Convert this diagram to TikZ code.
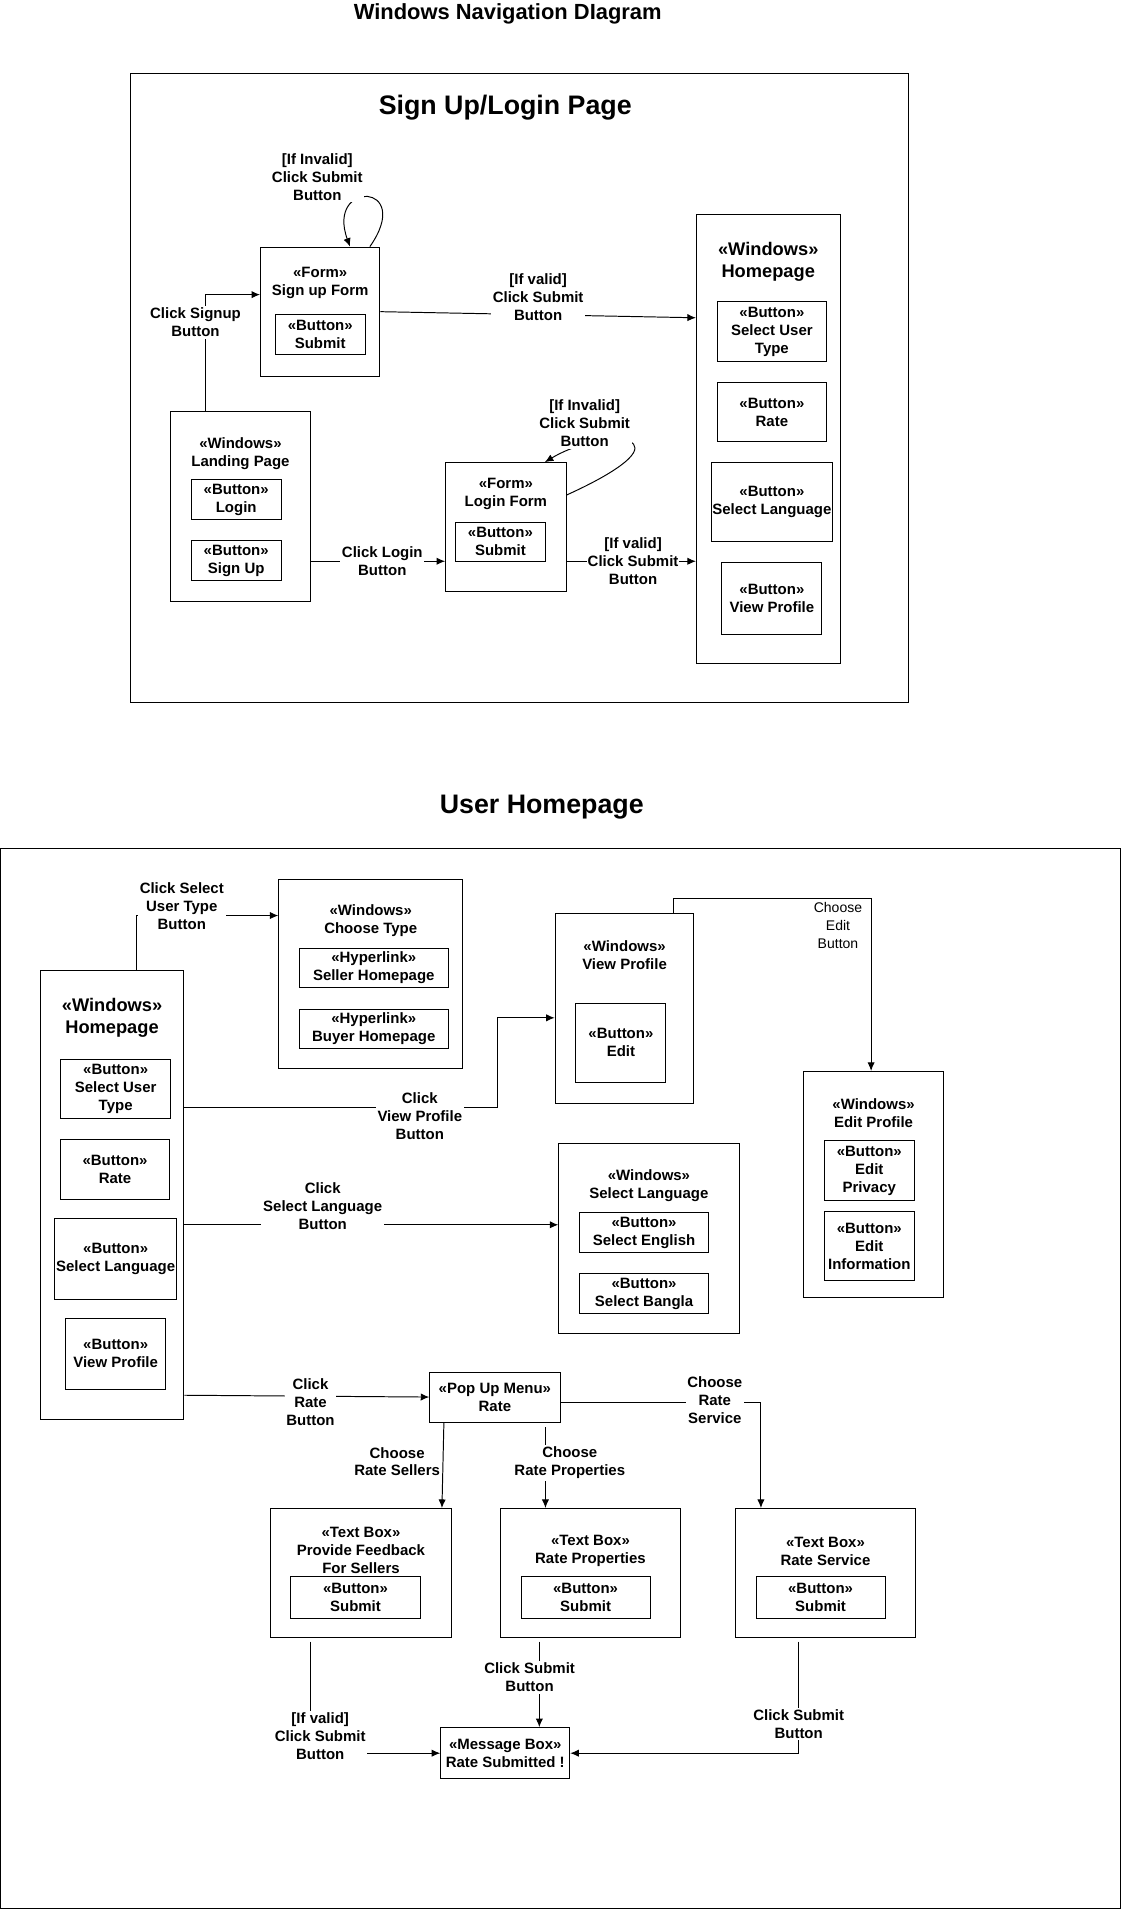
\documentclass[tikz,border=0pt]{standalone}
\usepackage{fontspec}
\setmainfont{Liberation Sans}
\usetikzlibrary{arrows.meta}
\newcommand{\navfont}{\fontsize{12.3}{14.7}\selectfont\bfseries}
\newcommand{\homefont}{\fontsize{15}{17.5}\selectfont\bfseries}
\newcommand{\choosefont}{\fontsize{11.5}{14.7}\selectfont}
\newcommand{\headfont}[1]{\fontsize{#1}{#1}\selectfont\bfseries}
\begin{document}
\begin{tikzpicture}[x=1pt, y=-1pt, line width=0.8pt,
    win/.style={draw, inner sep=0pt},
    btn/.style={draw, inner sep=1pt, align=center, font=\navfont},
    caption/.style={align=center, inner sep=0pt, font=\navfont},
    lab/.style={fill=white, inner sep=1.5pt, align=center, font=\navfont},
    link/.style={-{Latex[length=7pt,width=6pt]}}]
    \useasboundingbox[fill=white] (0,0) rectangle (921,1568);

    \node[font=\headfont{18}] (mainTitle) at (417,11) {Windows Navigation DIagram};
    \draw (107,60) rectangle (746,577);
    \node[font=\headfont{22}] (loginTitle) at (415,88) {Sign Up/Login Page};

    \node[win, minimum width=98, minimum height=106] (signup) at (263,256) {};
    \node[caption] (signupCap) at (263,232.5) {«Form»\\Sign up Form};
    \node[btn, minimum width=74, minimum height=33] (signupSubmit) at (263,274.5) {«Button»\\Submit};

    \node[win, minimum width=115, minimum height=156] (landing) at (197.5,416) {};
    \node[caption] (landingCap) at (197.5,372.5) {«Windows»\\Landing Page};
    \node[btn, minimum width=74, minimum height=33] (landLogin) at (194,410.5) {«Button»\\Login};
    \node[btn, minimum width=74, minimum height=33] (landSignup) at (194,460.5) {«Button»\\Sign Up};

    \node[win, minimum width=99, minimum height=106] (login) at (415.5,433) {};
    \node[caption] (loginCap) at (415.5,405.5) {«Form»\\Login Form};
    \node[btn, minimum width=74, minimum height=32] (loginSubmit) at (411,445) {«Button»\\Submit};

    \node[win, minimum width=118, minimum height=369] (homeA) at (631,360.5) {};
    \node[caption, font=\homefont] (homeACap) at (631,215) {«Windows»\\Homepage};
    \node[btn, minimum width=90, minimum height=49] (homeAUser) at (634,272.5) {«Button»\\Select User\\Type};
    \node[btn, minimum width=90, minimum height=49] (homeARate) at (634,338.5) {«Button»\\Rate};
    \node[btn, minimum width=100, minimum height=65] (homeALang) at (634,412.5) {«Button»\\Select Language};
    \node[btn, minimum width=82, minimum height=59] (homeAView) at (634,491.5) {«Button»\\View Profile};

    \draw[link] ([xshift=29pt]landing.north west) |- ([yshift=14pt]signup.west)
        node[lab, pos=0.38, xshift=-8pt] {Click Signup\\Button};
    \draw[link] (signup.east) -- ([yshift=99.5pt]homeA.west)
        node[lab, midway, yshift=14.5pt] {[If valid]\\Click Submit\\Button};
    \draw[link] ([xshift=-8.6pt]signup.north east) .. controls +(37,-53) and +(-20,-55) .. ([xshift=24.5pt]signup.north)
        node[lab, pos=0.5, xshift=-41.4pt, yshift=16.5pt] {[If Invalid]\\Click Submit\\Button};
    \draw[link] ([yshift=-45pt]landing.east) -- ([yshift=-28pt]login.west)
        node[lab, midway, xshift=3.5pt] {Click Login\\Button};
    \draw[link] ([yshift=-27pt]login.north east) .. controls +(110,-50) and +(50,-30) .. ([xshift=32pt]login.north)
        node[lab, pos=0.7, xshift=-14pt, yshift=15pt] {[If Invalid]\\Click Submit\\Button};
    \draw[link] ([yshift=-28pt]login.east) -- ([yshift=-100.5pt]homeA.west)
        node[lab, midway, inner sep=0.5pt, xshift=1.5pt] {[If valid]\\Click Submit\\Button};

    \node[font=\headfont{22}] (userTitle) at (445,663) {User Homepage};
    \draw (0.5,697) rectangle (920.5,1567.4);

    \node[win, minimum width=118, minimum height=369] (homeB) at (92,981.5) {};
    \node[caption, font=\homefont] (homeBCap) at (92,836) {«Windows»\\Homepage};
    \node[btn, minimum width=90, minimum height=49] (homeBUser) at (95,894.5) {«Button»\\Select User\\Type};
    \node[btn, minimum width=89, minimum height=49] (homeBRate) at (94.5,960.5) {«Button»\\Rate};
    \node[btn, minimum width=100, minimum height=66] (homeBLang) at (95,1034) {«Button»\\Select Language};
    \node[btn, minimum width=82, minimum height=58] (homeBView) at (95,1112) {«Button»\\View Profile};

    \node[win, minimum width=151, minimum height=156] (chooseType) at (304.5,800) {};
    \node[caption] (chooseTypeCap) at (304.5,756.5) {«Windows»\\Choose Type};
    \node[btn, minimum width=122, minimum height=32] (seller) at (307,795) {«Hyperlink»\\Seller Homepage};
    \node[btn, minimum width=122, minimum height=32] (buyer) at (307,845) {«Hyperlink»\\Buyer Homepage};

    \node[win, minimum width=114, minimum height=156] (viewProf) at (513,828) {};
    \node[caption] (viewProfCap) at (513,784.5) {«Windows»\\View Profile};
    \node[btn, minimum width=74, minimum height=65] (editBtn) at (510,856.5) {«Button»\\Edit};

    \node[win, minimum width=115, minimum height=186] (editProf) at (717.5,973) {};
    \node[caption] (editProfCap) at (717.5,914.5) {«Windows»\\Edit Profile};
    \node[btn, minimum width=74, minimum height=49] (editPriv) at (714,961.5) {«Button»\\Edit\\Privacy};
    \node[btn, minimum width=74, minimum height=57] (editInfo) at (714,1023.5) {«Button»\\Edit\\Information};

    \node[win, minimum width=148, minimum height=156] (selLang) at (533,1017) {};
    \node[caption] (selLangCap) at (533,973.5) {«Windows»\\Select Language};
    \node[btn, minimum width=106, minimum height=33] (selEng) at (529,1012.5) {«Button»\\Select English};
    \node[btn, minimum width=106, minimum height=33] (selBan) at (529,1062.5) {«Button»\\Select Bangla};

    \node[btn, minimum width=107, minimum height=41] (popup) at (406.5,1147.5) {«Pop Up Menu»\\Rate};

    \node[win, minimum width=149, minimum height=106] (tbFeed) at (296.5,1292) {};
    \node[caption] (tbFeedCap) at (296.5,1273.5) {«Text Box»\\Provide Feedback\\For Sellers};
    \node[btn, minimum width=106, minimum height=34] (feedSubmit) at (292,1312) {«Button»\\Submit};

    \node[win, minimum width=148, minimum height=106] (tbProp) at (485,1292) {};
    \node[caption] (tbPropCap) at (485,1274) {«Text Box»\\Rate Properties};
    \node[btn, minimum width=106, minimum height=34] (propSubmit) at (481,1312) {«Button»\\Submit};

    \node[win, minimum width=148, minimum height=106] (tbServ) at (678,1292) {};
    \node[caption] (tbServCap) at (678,1274) {«Text Box»\\Rate Service};
    \node[btn, minimum width=106, minimum height=34] (servSubmit) at (674,1312) {«Button»\\Submit};

    \node[btn, minimum width=106, minimum height=42] (msg) at (415,1440) {«Message Box»\\Rate Submitted !};

    \draw[link] ([xshift=20pt]homeB.north) |- ([yshift=48pt]chooseType.west)
        node[lab, pos=0.66, yshift=8pt] {Click Select\\User Type\\Button};
    \draw[link] ([yshift=71.5pt]homeB.east) -| ([xshift=-47pt,yshift=-8pt]viewProf.west)
        node[lab, pos=0.376, yshift=-7pt] {Click\\View Profile\\Button}
        -- ([yshift=-8pt]viewProf.west);
    \draw[link] ([xshift=-17pt]viewProf.north east) -- ++(0,-12) -| ([xshift=-2pt]editProf.north)
        node[caption, pos=0.58, anchor=east, xshift=-7pt, font=\choosefont] {Choose\\Edit\\Button};
    \draw[link] ([yshift=-24.5pt]homeB.east) -- ([yshift=11pt]selLang.west)
        node[lab, pos=0.37, yshift=15pt] {Click\\Select Language\\Button};
    \draw[link] ([yshift=-164.5pt]homeB.east) -- (popup.west)
        node[lab, pos=0.515, yshift=-5pt] {Click\\Rate\\Button};
    \draw[link] ([xshift=12pt]popup.south west) -- ([xshift=66.5pt]tbFeed.north)
        node[caption, midway, left=2pt, yshift=3pt] {Choose\\Rate Sellers};
    \draw[link] ([xshift=41.5pt,yshift=-4pt]popup.south) -- ([xshift=-37pt]tbProp.north)
        node[lab, midway, xshift=20pt, yshift=4pt] {Choose\\Rate Properties};
    \draw[link] ([yshift=-4.5pt]popup.east) -| ([xshift=-53pt]tbServ.north)
        node[lab, pos=0.385, yshift=2pt] {Choose\\Rate\\Service};
    \draw[link] ([xshift=-41.5pt,yshift=-3pt]tbFeed.south) |- (msg.west)
        node[lab, pos=0.5, xshift=8pt, yshift=14pt] {[If valid]\\Click Submit\\Button};
    \draw[link] ([xshift=-42pt,yshift=-3pt]tbProp.south) -- ([xshift=28pt]msg.north)
        node[lab, pos=0.42, xshift=-8pt] {Click Submit\\Button};
    \draw[link] ([xshift=-22pt,yshift=-3pt]tbServ.south) |- (msg.east)
        node[lab, pos=0.37] {Click Submit\\Button};
\end{tikzpicture}
\end{document}
